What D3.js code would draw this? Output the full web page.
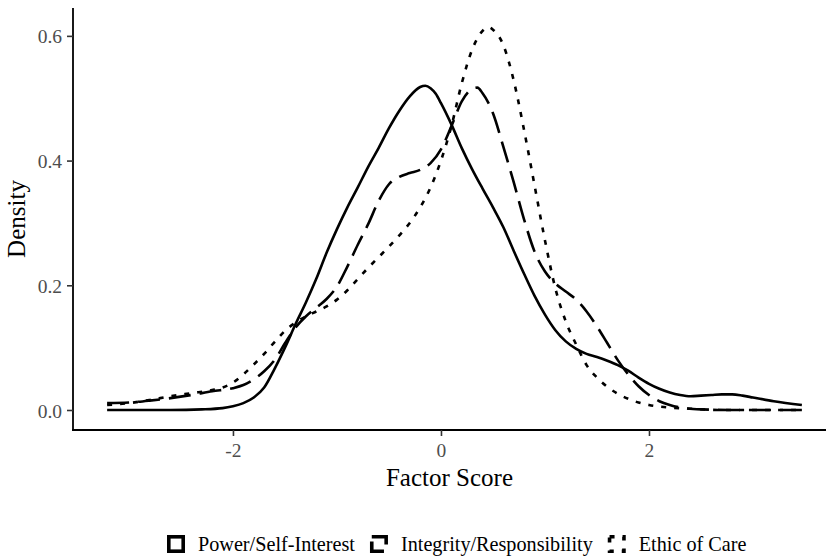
<!DOCTYPE html>
<html>
<head>
<meta charset="utf-8">
<script src="https://cdn.jsdelivr.net/npm/d3@7"></script>
<style>
  html, body { margin: 0; padding: 0; background: #fff; }
  svg { display: block; }
  text { font-family: "Liberation Serif", "Times New Roman", serif; }
</style>
</head>
<body>
<svg id="chart" width="826" height="556"></svg>
<script>
// ---- data ----
const categories = ["Power/Self-Interest", "Integrity/Responsibility", "Ethic of Care"];

const powerCurve = [
  [-3.21,0],[-2.6,0],[-2.3,0.001],[-2.1,0.003],[-2.0,0.006],[-1.9,0.011],[-1.8,0.02],
  [-1.7,0.036],[-1.6,0.066],[-1.5,0.1],[-1.4,0.137],[-1.3,0.172],[-1.2,0.21],[-1.1,0.252],
  [-1.0,0.29],[-0.9,0.325],[-0.8,0.357],[-0.7,0.39],[-0.6,0.42],[-0.5,0.452],[-0.4,0.48],
  [-0.3,0.503],[-0.2,0.518],[-0.15,0.52],[-0.1,0.516],[-0.05,0.507],[0,0.492],[0.1,0.458],
  [0.2,0.42],[0.3,0.386],[0.4,0.355],[0.5,0.325],[0.6,0.293],[0.7,0.255],[0.8,0.218],
  [0.9,0.183],[1.0,0.153],[1.1,0.128],[1.2,0.11],[1.3,0.098],[1.4,0.09],[1.5,0.085],
  [1.6,0.079],[1.7,0.072],[1.8,0.063],[1.9,0.052],[2.0,0.042],[2.1,0.034],[2.2,0.028],
  [2.3,0.024],[2.4,0.022],[2.5,0.023],[2.6,0.024],[2.7,0.025],[2.8,0.025],[2.9,0.023],
  [3.0,0.02],[3.2,0.014],[3.47,0.008]
];

const integrityCurve = [
  [-3.21,0.011],[-3.0,0.012],[-2.8,0.015],[-2.6,0.019],[-2.4,0.024],[-2.2,0.03],[-2.0,0.035],
  [-1.9,0.04],[-1.8,0.049],[-1.7,0.062],[-1.6,0.08],[-1.5,0.107],[-1.4,0.132],[-1.3,0.15],
  [-1.2,0.164],[-1.1,0.178],[-1.0,0.198],[-0.9,0.23],[-0.8,0.265],[-0.7,0.298],[-0.6,0.335],
  [-0.5,0.362],[-0.4,0.374],[-0.3,0.38],[-0.2,0.385],[-0.1,0.396],[0,0.418],[0.1,0.455],
  [0.2,0.495],[0.3,0.515],[0.35,0.517],[0.4,0.508],[0.5,0.476],[0.6,0.422],[0.7,0.365],
  [0.8,0.305],[0.9,0.254],[1.0,0.222],[1.1,0.203],[1.2,0.19],[1.3,0.177],[1.4,0.158],
  [1.5,0.134],[1.6,0.107],[1.7,0.08],[1.8,0.057],[1.9,0.038],[2.0,0.024],[2.1,0.014],
  [2.2,0.008],[2.3,0.004],[2.5,0.001],[2.8,0],[3.47,0]
];

const careCurve = [
  [-3.21,0.008],[-3.0,0.011],[-2.8,0.016],[-2.6,0.022],[-2.4,0.027],[-2.2,0.032],[-2.1,0.036],
  [-2.0,0.044],[-1.9,0.057],[-1.8,0.073],[-1.7,0.09],[-1.6,0.109],[-1.5,0.127],[-1.4,0.14],
  [-1.3,0.15],[-1.2,0.158],[-1.1,0.166],[-1.0,0.177],[-0.9,0.192],[-0.8,0.21],[-0.7,0.228],
  [-0.6,0.245],[-0.5,0.262],[-0.4,0.28],[-0.3,0.3],[-0.2,0.325],[-0.1,0.357],[0,0.4],
  [0.1,0.455],[0.2,0.524],[0.3,0.578],[0.4,0.608],[0.45,0.614],[0.5,0.61],[0.6,0.585],
  [0.7,0.528],[0.8,0.448],[0.9,0.36],[1.0,0.272],[1.1,0.195],[1.2,0.142],[1.3,0.105],
  [1.4,0.072],[1.5,0.052],[1.6,0.037],[1.7,0.026],[1.8,0.018],[1.9,0.012],[2.0,0.008],
  [2.2,0.004],[2.4,0.002],[2.7,0],[3.47,0]
];

const xTicks = [-2, 0, 2];
const xTickLabels = ["-2", "0", "2"];
const yTicks = [0, 0.2, 0.4, 0.6];
const yTickLabels = ["0.0", "0.2", "0.4", "0.6"];
const xTitle = "Factor Score";
const yTitle = "Density";

// ---- layout ----
const svg = d3.select("#chart");
const panel = { left: 73, right: 826, top: 8, bottom: 430 };

const x = d3.scaleLinear().domain([-3.538, 3.702]).range([panel.left, panel.right]);
const y = d3.scaleLinear().domain([-0.0321, 0.6447]).range([panel.bottom, panel.top]);

const series = [
  { name: categories[0], data: powerCurve, dash: null },
  { name: categories[1], data: integrityCurve, dash: "22,9" },
  { name: categories[2], data: careCurve, dash: "5,8" }
];

const line = d3.line()
  .x(d => x(d[0]))
  .y(d => y(d[1]))
  .curve(d3.curveMonotoneX);

svg.append("g")
  .selectAll("path")
  .data(series)
  .join("path")
  .attr("d", d => line(d.data))
  .attr("fill", "none")
  .attr("stroke", "#000")
  .attr("stroke-width", 2.6)
  .attr("stroke-linecap", "butt")
  .attr("stroke-linejoin", "round")
  .attr("stroke-dasharray", d => d.dash);

// ---- axes ----
const xAxis = d3.axisBottom(x)
  .tickValues(xTicks)
  .tickFormat((d, i) => xTickLabels[i])
  .tickSize(6)
  .tickSizeOuter(0)
  .tickPadding(3);

const yAxis = d3.axisLeft(y)
  .tickValues(yTicks)
  .tickFormat((d, i) => yTickLabels[i])
  .tickSize(6)
  .tickSizeOuter(0)
  .tickPadding(4);

const gx = svg.append("g")
  .attr("transform", `translate(0,${panel.bottom})`)
  .call(xAxis);
gx.select(".domain").attr("stroke", "#000").attr("stroke-width", 1.8)
  .attr("d", `M${panel.left - 0.9},0H${panel.right}`);
gx.selectAll(".tick line").attr("stroke", "#333").attr("stroke-width", 1.6);
gx.selectAll(".tick text")
  .attr("fill", "#4d4d4d")
  .attr("font-size", "19.5px")
  .attr("font-family", "Liberation Serif, Times New Roman, serif")
  .attr("dy", null)
  .attr("y", 27);

const gy = svg.append("g")
  .attr("transform", `translate(${panel.left},0)`)
  .call(yAxis);
gy.select(".domain").attr("stroke", "#000").attr("stroke-width", 1.8)
  .attr("d", `M0,${panel.top}V${panel.bottom + 0.9}`);
gy.selectAll(".tick line").attr("stroke", "#333").attr("stroke-width", 1.6);
gy.selectAll(".tick text")
  .attr("fill", "#4d4d4d")
  .attr("font-size", "19.5px")
  .attr("font-family", "Liberation Serif, Times New Roman, serif")
  .attr("x", -11)
  .attr("dy", "0.36em");

// ---- axis titles ----
svg.append("text")
  .attr("x", (panel.left + panel.right) / 2)
  .attr("y", 486)
  .attr("text-anchor", "middle")
  .attr("font-size", "25px")
  .attr("fill", "#000")
  .text(xTitle);

svg.append("text")
  .attr("transform", `translate(25,${(panel.top + panel.bottom) / 2}) rotate(-90)`)
  .attr("text-anchor", "middle")
  .attr("font-size", "25px")
  .attr("fill", "#000")
  .text(yTitle);

// ---- legend ----
const legend = svg.append("g");
const keyStartX = 167;
const keySize = 18;
const keyTextGap = 13;
const itemGap = 15;
const legendCenterY = 544;
let cx = keyStartX;
series.forEach(s => {
  const g = legend.append("g");
  g.append("rect")
    .attr("x", cx + 1.8)
    .attr("y", legendCenterY - keySize / 2 + 1.8)
    .attr("width", keySize - 3.6)
    .attr("height", keySize - 3.6)
    .attr("fill", "none")
    .attr("stroke", "#000")
    .attr("stroke-width", 3.6)
    .attr("stroke-dasharray", s.dash);
  const t = g.append("text")
    .attr("x", cx + keySize + keyTextGap)
    .attr("y", legendCenterY + 7)
    .attr("font-size", "20.2px")
    .attr("fill", "#000")
    .text(s.name);
  const w = t.node().getComputedTextLength();
  cx = cx + keySize + keyTextGap + w + itemGap;
});
</script>
</body>
</html>
